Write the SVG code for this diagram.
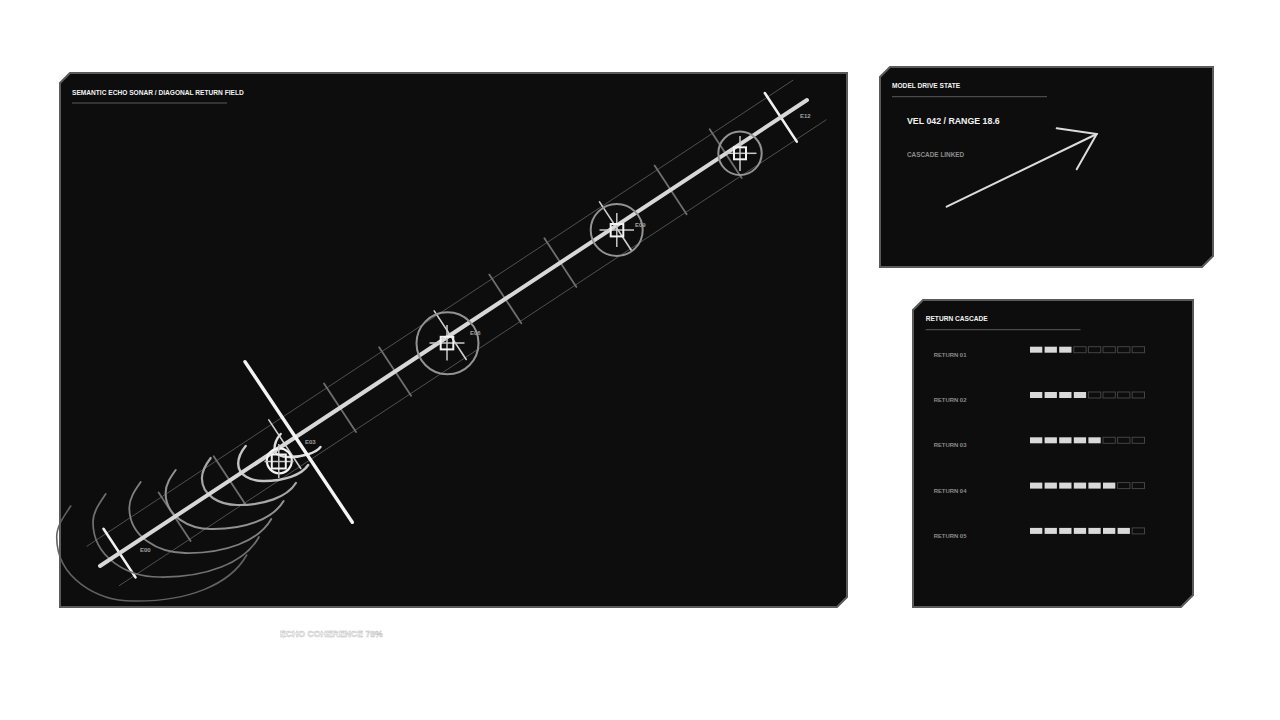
<svg xmlns="http://www.w3.org/2000/svg" width="1280" height="720" viewBox="0 0 1280 720">
<defs>
<style>
.panel{fill:#0d0d0d;stroke:#5a5a5a;stroke-width:2}
.ttl{font-family:"Liberation Sans",Arial,sans-serif;font-weight:bold;fill:#f2f2f2}
.sub{font-family:"Liberation Sans",Arial,sans-serif;font-weight:bold;fill:#8c8c8c}
.rule{stroke:#5a5a5a;stroke-width:1}
.thin{stroke:#505050;stroke-width:1;fill:none}
.tick{stroke:#6e6e6e;stroke-width:1.8;stroke-linecap:round}
.ntick{stroke:#cfcfcf;stroke-width:1.6;stroke-linecap:round}
.etick{stroke:#f0f0f0;stroke-width:2.6;stroke-linecap:round}
.arc{fill:none;stroke-linecap:round}
.ring{fill:none;stroke:#939393;stroke-width:2}
.sq{fill:none;stroke:#f2f2f2;stroke-width:2}
.xh{stroke:#c8c8c8;stroke-width:1.5}
.lab{font-family:"Liberation Sans",Arial,sans-serif;font-weight:bold;font-size:6px;fill:#a0a0a0}
.on{fill:#d9d9d9}
.off{fill:none;stroke:#444;stroke-width:1}
</style>
</defs>
<rect width="1280" height="720" fill="#ffffff"/>

<g id="sonar-panel">
<polygon class="panel" points="70,73 847,73 847,597 837,607 60,607 60,83"/>
<text class="ttl" x="72" y="94.5" font-size="6.6">SEMANTIC ECHO SONAR / DIAGONAL RETURN FIELD</text>
<line class="rule" x1="72" y1="103" x2="227" y2="103"/>
</g>

<g id="connectors">
<line class="thin" x1="86.5" y1="546.5" x2="793.3" y2="80"/>
<line class="thin" x1="119" y1="585.8" x2="826.5" y2="119.6"/>
<line class="etick" x1="103.5" y1="528.8" x2="135.5" y2="577.4"/>
<line class="tick" x1="158.6" y1="492.5" x2="190.6" y2="541.1"/>
<line class="tick" x1="213.7" y1="456.2" x2="245.7" y2="504.8"/>
<line class="ntick" x1="268.8" y1="419.9" x2="300.8" y2="468.5"/>
<line class="tick" x1="324" y1="383.5" x2="356" y2="432.1"/>
<line class="tick" x1="379.1" y1="347.2" x2="411.1" y2="395.8"/>
<line class="ntick" x1="434.2" y1="310.9" x2="466.2" y2="359.5"/>
<line class="tick" x1="489.3" y1="274.6" x2="521.3" y2="323.2"/>
<line class="tick" x1="544.4" y1="238.3" x2="576.4" y2="286.9"/>
<line class="ntick" x1="599.5" y1="201.9" x2="631.5" y2="250.5"/>
<line class="tick" x1="654.6" y1="165.6" x2="686.6" y2="214.2"/>
<line class="tick" x1="709.7" y1="129.3" x2="741.7" y2="177.9"/>
<line class="etick" x1="764.8" y1="93" x2="796.8" y2="141.6"/>
</g>

<g id="echo-wake">
<path class="arc" stroke="#626262" stroke-width="1.6" d="M70.7,506 C65,515 56.7,525 56.7,537 C56.7,578 97,601 133,601 C187,602 230,585 246.7,555"/>
<path class="arc" stroke="#707070" stroke-width="1.7" d="M105.7,494 C100.3,502.2 93,511.3 93,522.3 C93,557.5 127.8,577 159,577 C206.3,577.8 244.3,563 259,537"/>
<path class="arc" stroke="#808080" stroke-width="1.8" d="M140.7,482 C135.7,489.3 129.3,497.7 129.3,507.7 C129.3,537 158.7,553 185,553 C225.7,553.7 258.7,541 271.3,519"/>
<path class="arc" stroke="#929292" stroke-width="2" d="M175.7,470 C171,476.5 165.6,484 165.6,493 C165.6,516.5 189.5,529 211,529 C245,529.5 273,519 283.6,501"/>
<path class="arc" stroke="#a6a6a6" stroke-width="2.2" d="M210.7,458 C206.3,463.7 201.9,470.3 201.9,478.3 C201.9,496 220.3,505 237,505 C264.3,505.3 287.3,497 295.9,483"/>
<path class="arc" stroke="#c4c4c4" stroke-width="2.4" d="M245.7,446 C241.7,450.8 238.2,456.7 238.2,463.7 C238.2,475.5 251.2,481 263,481 C283.7,481.2 301.7,475 308.2,465"/>
<path class="arc" stroke="#dedede" stroke-width="2.4" d="M280.7,434 C277,438 274.5,443 274.5,449 C274.5,455 282,457 289,457 C303,457 316,453 320.5,447"/>
</g>

<g id="main-axis">
<line x1="100" y1="566" x2="807" y2="100" stroke="#d8d8d8" stroke-width="4" stroke-linecap="round"/>
<line x1="245" y1="361.7" x2="352.3" y2="522.3" stroke="#f4f4f4" stroke-width="3.4" stroke-linecap="round"/>
</g>

<g id="node-E00">
<text class="lab" x="140" y="551.5">E00</text>
</g>

<g id="node-E03">
<circle cx="279.3" cy="460.8" r="12.5" fill="none" stroke="#f4f4f4" stroke-width="2.2"/>
<line class="xh" x1="264.5" y1="461.5" x2="293.5" y2="461.5" stroke="#e8e8e8"/>
<line class="xh" x1="278.8" y1="444" x2="278.8" y2="478" stroke="#e8e8e8"/>
<rect class="sq" x="271.8" y="454.5" width="14" height="14"/>
<text class="lab" x="305" y="444">E03</text>
</g>

<g id="node-E06">
<circle class="ring" cx="447.5" cy="343.3" r="31"/>
<line class="xh" x1="429.5" y1="343" x2="464.5" y2="343"/>
<line class="xh" x1="447" y1="325" x2="447" y2="360.5"/>
<rect class="sq" x="440.7" y="336.8" width="12.6" height="12.6"/>
<text class="lab" x="470" y="335">E06</text>
</g>

<g id="node-E09">
<circle class="ring" cx="616.7" cy="230" r="26"/>
<line class="xh" x1="599.5" y1="230" x2="634" y2="230"/>
<line class="xh" x1="616.8" y1="213" x2="616.8" y2="247"/>
<rect class="sq" x="610.7" y="224" width="12.6" height="12.4"/>
<text class="lab" x="635" y="227">E09</text>
</g>

<g id="node-E11">
<circle class="ring" cx="740" cy="153.3" r="21.7"/>
<line class="xh" x1="726" y1="153.3" x2="756.5" y2="153.3"/>
<line class="xh" x1="740" y1="136" x2="740" y2="171"/>
<rect class="sq" x="734" y="147.3" width="12" height="12"/>
</g>

<g id="node-E12">
<text class="lab" x="800" y="118">E12</text>
</g>

<g id="drive-state">
<polygon class="panel" points="890,67 1213,67 1213,256 1202,267 880,267 880,77"/>
<text class="ttl" x="892" y="88" font-size="6.6">MODEL DRIVE STATE</text>
<line class="rule" x1="892" y1="96.7" x2="1047" y2="96.7"/>
<text class="ttl" x="907" y="124" font-size="8.8">VEL 042 / RANGE 18.6</text>
<text class="sub" x="907" y="156.5" font-size="6.4">CASCADE LINKED</text>
<line x1="946.7" y1="206.7" x2="1096.7" y2="134" stroke="#dcdcdc" stroke-width="2" stroke-linecap="round"/>
<polyline points="1056.7,128.3 1096.7,134 1076.7,169.3" fill="none" stroke="#dcdcdc" stroke-width="2" stroke-linecap="round" stroke-linejoin="miter"/>
</g>

<g id="return-cascade">
<polygon class="panel" points="923,300 1193,300 1193,595 1181,607 913,607 913,310"/>
<text class="ttl" x="925.7" y="321" font-size="6.6">RETURN CASCADE</text>
<line class="rule" x1="925.7" y1="329.7" x2="1080.5" y2="329.7"/>
</g>

<g id="return-01">
<text class="sub" x="933.7" y="356.6" font-size="5.9">RETURN 01</text>
<rect class="on" x="1030" y="346.7" width="12.3" height="6"/>
<rect class="on" x="1044.6" y="346.7" width="12.3" height="6"/>
<rect class="on" x="1059.2" y="346.7" width="12.3" height="6"/>
<rect class="off" x="1073.8" y="346.7" width="12.3" height="6"/>
<rect class="off" x="1088.4" y="346.7" width="12.3" height="6"/>
<rect class="off" x="1103" y="346.7" width="12.3" height="6"/>
<rect class="off" x="1117.6" y="346.7" width="12.3" height="6"/>
<rect class="off" x="1132.2" y="346.7" width="12.3" height="6"/>
</g>
<g id="return-02">
<text class="sub" x="933.7" y="401.9" font-size="5.9">RETURN 02</text>
<rect class="on" x="1030" y="392" width="12.3" height="6"/>
<rect class="on" x="1044.6" y="392" width="12.3" height="6"/>
<rect class="on" x="1059.2" y="392" width="12.3" height="6"/>
<rect class="on" x="1073.8" y="392" width="12.3" height="6"/>
<rect class="off" x="1088.4" y="392" width="12.3" height="6"/>
<rect class="off" x="1103" y="392" width="12.3" height="6"/>
<rect class="off" x="1117.6" y="392" width="12.3" height="6"/>
<rect class="off" x="1132.2" y="392" width="12.3" height="6"/>
</g>
<g id="return-03">
<text class="sub" x="933.7" y="447.2" font-size="5.9">RETURN 03</text>
<rect class="on" x="1030" y="437.3" width="12.3" height="6"/>
<rect class="on" x="1044.6" y="437.3" width="12.3" height="6"/>
<rect class="on" x="1059.2" y="437.3" width="12.3" height="6"/>
<rect class="on" x="1073.8" y="437.3" width="12.3" height="6"/>
<rect class="on" x="1088.4" y="437.3" width="12.3" height="6"/>
<rect class="off" x="1103" y="437.3" width="12.3" height="6"/>
<rect class="off" x="1117.6" y="437.3" width="12.3" height="6"/>
<rect class="off" x="1132.2" y="437.3" width="12.3" height="6"/>
</g>
<g id="return-04">
<text class="sub" x="933.7" y="492.5" font-size="5.9">RETURN 04</text>
<rect class="on" x="1030" y="482.6" width="12.3" height="6"/>
<rect class="on" x="1044.6" y="482.6" width="12.3" height="6"/>
<rect class="on" x="1059.2" y="482.6" width="12.3" height="6"/>
<rect class="on" x="1073.8" y="482.6" width="12.3" height="6"/>
<rect class="on" x="1088.4" y="482.6" width="12.3" height="6"/>
<rect class="on" x="1103" y="482.6" width="12.3" height="6"/>
<rect class="off" x="1117.6" y="482.6" width="12.3" height="6"/>
<rect class="off" x="1132.2" y="482.6" width="12.3" height="6"/>
</g>
<g id="return-05">
<text class="sub" x="933.7" y="537.8" font-size="5.9">RETURN 05</text>
<rect class="on" x="1030" y="527.9" width="12.3" height="6"/>
<rect class="on" x="1044.6" y="527.9" width="12.3" height="6"/>
<rect class="on" x="1059.2" y="527.9" width="12.3" height="6"/>
<rect class="on" x="1073.8" y="527.9" width="12.3" height="6"/>
<rect class="on" x="1088.4" y="527.9" width="12.3" height="6"/>
<rect class="on" x="1103" y="527.9" width="12.3" height="6"/>
<rect class="on" x="1117.6" y="527.9" width="12.3" height="6"/>
<rect class="off" x="1132.2" y="527.9" width="12.3" height="6"/>
</g>

<g id="coherence">
<text x="280" y="636.5" font-family="'Liberation Sans',Arial,sans-serif" font-weight="bold" font-size="8.7" fill="#ffffff" stroke="#b8b8b8" stroke-width="0.45">ECHO COHERENCE 78%</text>
</g>
</svg>
